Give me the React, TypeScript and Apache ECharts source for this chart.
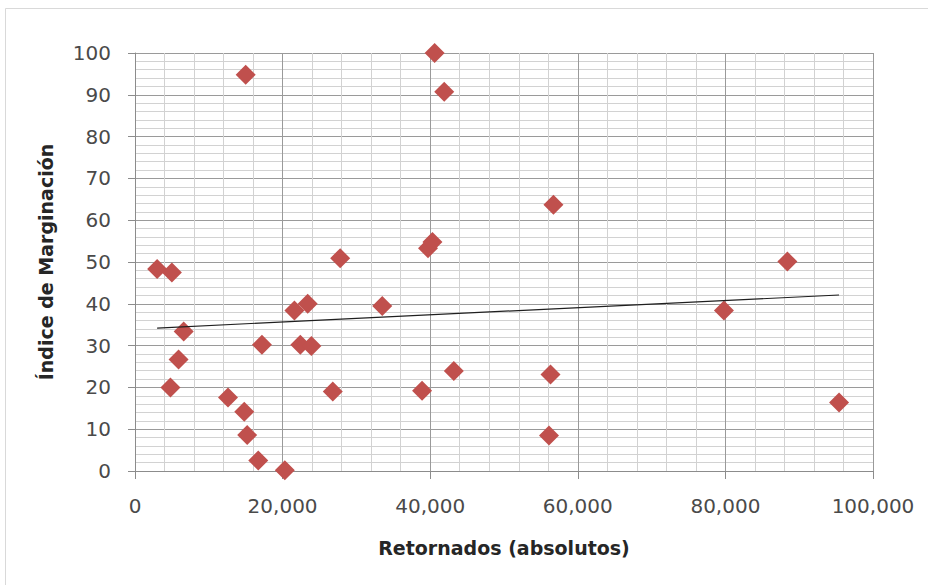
import React, { useEffect, useRef } from "react";
import * as echarts from "echarts";

// Retornados (absolutos) — x values
const retornados: number[] = [
  3000, 5000, 6600, 5900, 4800, 12600, 14800, 15200, 16700, 17200,
  27800, 21600, 23400, 22400, 23900, 26800, 33500, 38900, 43200, 39700,
  40300, 20300, 15000, 40600, 41900, 56700, 56300, 56100, 79800, 88400,
  95400,
];
// Índice de Marginación — y values
const indice: number[] = [
  48.3, 47.5, 33.4, 26.7, 20.0, 17.6, 14.2, 8.6, 2.5, 30.2,
  50.9, 38.4, 40.0, 30.2, 29.9, 19.0, 39.5, 19.2, 23.9, 53.3,
  54.8, 0.2, 94.8, 100, 90.7, 63.7, 23.1, 8.5, 38.4, 50.1,
  16.4,
];
// Linear trendline endpoints
const trendX: number[] = [3000, 95400];
const trendY: number[] = [34.2, 42.1];

const xTitle = "Retornados (absolutos)";
const yTitle = "Índice de Marginación";

export default function App() {
  const ref = useRef<HTMLDivElement>(null);
  useEffect(() => {
    if (!ref.current) return;
    const chart = echarts.init(ref.current, null, { renderer: "svg" });
    const labelFont = {
      fontFamily: "DejaVu Sans",
      fontSize: 20,
      color: "#4a4a4a",
    };
    chart.setOption({
      animation: false,
      backgroundColor: "#ffffff",
      grid: { left: 135, right: 55, top: 53, bottom: 114, containLabel: false },
      xAxis: {
        type: "value",
        min: 0,
        max: 100000,
        interval: 20000,
        axisLine: { show: true, lineStyle: { color: "#8c8c8c", width: 1 } },
        axisTick: { show: true, inside: false, length: 8, lineStyle: { color: "#8c8c8c" } },
        axisLabel: {
          ...labelFont,
          margin: 25,
          formatter: (v: number) => v.toLocaleString("en-US"),
        },
        splitLine: { show: true, lineStyle: { color: "#9a9a9a", width: 1 } },
        minorTick: { show: false, splitNumber: 5 },
        minorSplitLine: { show: true, lineStyle: { color: "#d2d2d2", width: 1 } },
      },
      yAxis: {
        type: "value",
        min: 0,
        max: 100,
        interval: 10,
        axisLine: { show: true, lineStyle: { color: "#8c8c8c", width: 1 } },
        axisTick: { show: true, inside: false, length: 7, lineStyle: { color: "#8c8c8c" } },
        axisLabel: { ...labelFont, margin: 24 },
        splitLine: { show: true, lineStyle: { color: "#9a9a9a", width: 1 } },
        minorTick: { show: false, splitNumber: 5 },
        minorSplitLine: { show: true, lineStyle: { color: "#d2d2d2", width: 1 } },
      },
      series: [
        {
          type: "scatter",
          symbol: "diamond",
          symbolSize: [20, 20],
          itemStyle: { color: "#C0504D", opacity: 1 },
          data: retornados.map((x, i) => [x, indice[i]]),
          z: 2,
        },
        {
          type: "line",
          symbol: "none",
          lineStyle: { color: "#1f1f1f", width: 1.2 },
          data: trendX.map((x, i) => [x, trendY[i]]),
          z: 3,
        },
      ],
      graphic: [
        {
          type: "rect",
          shape: { x: 5.5, y: 8.5, width: 1000, height: 1000 },
          style: { fill: "none", stroke: "#d9d9d9", lineWidth: 1 },
          silent: true,
        },
        {
          type: "text",
          x: 504,
          y: 548,
          style: {
            text: xTitle,
            fontFamily: "DejaVu Sans",
            fontWeight: "bold",
            fontSize: 19,
            fill: "#262626",
            align: "center",
            verticalAlign: "middle",
          },
        },
        {
          type: "text",
          x: 46,
          y: 262,
          rotation: Math.PI / 2,
          style: {
            text: yTitle,
            fontFamily: "DejaVu Sans",
            fontWeight: "bold",
            fontSize: 19,
            fill: "#262626",
            align: "center",
            verticalAlign: "middle",
          },
        },
      ],
    });
    return () => chart.dispose();
  }, []);
  return (
    <div
      ref={ref}
      style={{ position: "fixed", left: 0, top: 0, width: 928, height: 585 }}
    />
  );
}
